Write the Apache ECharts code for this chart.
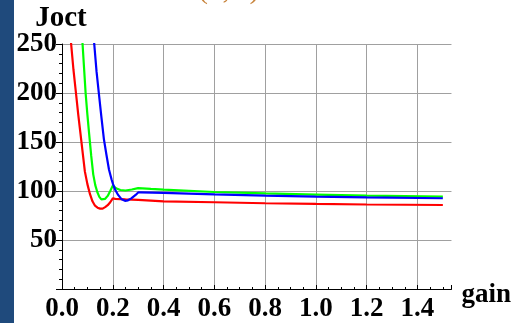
<!DOCTYPE html>
<html>
<head>
<meta charset="utf-8">
<script src="https://cdn.jsdelivr.net/npm/echarts@6/dist/echarts.min.js"></script>
<style>
  html, body { margin: 0; padding: 0; background: #ffffff; }
  #chart { width: 514px; height: 323px; }
</style>
</head>
<body>
<div id="chart"></div>
<script>
// Optimal cost Joct versus controller gain, three parameter settings
const gainRed  = [0.030, 0.036, 0.045, 0.055, 0.064, 0.073, 0.082, 0.090, 0.100, 0.110, 0.120, 0.130, 0.140, 0.150, 0.160, 0.170, 0.180, 0.190, 0.200, 0.210, 0.250, 0.300, 0.400, 0.600, 0.800, 1.000, 1.200, 1.500];
const joctRed  = [266, 250, 224, 200, 178, 158, 138, 120, 107, 97, 89.5, 85, 83, 82, 82, 83.5, 85.5, 88.5, 92.5, 92, 91.5, 91, 89.5, 88.5, 87.5, 86.8, 86.2, 85.7];

const gainGreen = [0.075, 0.081, 0.087, 0.093, 0.100, 0.107, 0.115, 0.123, 0.131, 0.139, 0.147, 0.155, 0.162, 0.170, 0.180, 0.190, 0.200, 0.205, 0.215, 0.230, 0.250, 0.275, 0.300, 0.350, 0.400, 0.600, 0.800, 1.000, 1.200, 1.500];
const joctGreen = [266, 250, 225, 200, 178, 158, 136, 117, 106, 99, 94, 91.5, 90.8, 92, 95, 100, 105.5, 105, 102.5, 101, 100.5, 101.5, 103, 102.2, 101.5, 99, 97.5, 96.3, 95.2, 94.2];

const gainBlue = [0.121, 0.127, 0.136, 0.145, 0.155, 0.165, 0.175, 0.185, 0.195, 0.201, 0.210, 0.221, 0.235, 0.248, 0.260, 0.273, 0.290, 0.300, 0.310, 0.400, 0.600, 0.800, 1.000, 1.200, 1.500];
const joctBlue = [266, 250, 222, 200, 176, 153, 137, 122, 112, 107, 101, 96, 91.5, 90, 90.5, 92.5, 96, 98.5, 98.5, 98, 96.5, 95.3, 94.3, 93.5, 92.6];

const xTicks = [0.0, 0.2, 0.4, 0.6, 0.8, 1.0, 1.2, 1.4];
const yTicks = [50, 100, 150, 200, 250];

const pairs = (xs, ys) => xs.map((x, i) => [x, ys[i]]);

const serifBold = { fontFamily: 'Liberation Serif', fontWeight: 'bold', color: '#000' };

const chart = echarts.init(document.getElementById('chart'), null, { renderer: 'canvas' });

chart.setOption({
  animation: false,
  backgroundColor: '#ffffff',
  graphic: [
    { type: 'rect', left: 0, top: 0, shape: { width: 14, height: 323 }, style: { fill: '#1f4a7c' }, z: 100 },
    { type: 'text', x: 198, y: 5, style: { text: '(λ, τ)', fill: '#c8843c', font: '30px "Liberation Serif"', textVerticalAlign: 'bottom' }, z: 100 },
    // y-axis title above the axis top
    { type: 'text', x: 61, y: 4, style: { text: 'Joct', fill: '#000', font: 'bold 29px "Liberation Serif"', textAlign: 'center', textVerticalAlign: 'top' }, z: 100 }
  ],
  grid: { left: 62, right: 61, top: 44, bottom: 32, containLabel: false },
  xAxis: {
    type: 'value',
    min: 0,
    max: 1.534,
    interval: 0.2,
    name: 'gain',
    nameLocation: 'end',
    nameGap: 10,
    nameTextStyle: Object.assign({ fontSize: 27, verticalAlign: 'top', padding: [-7, 0, 0, 0] }, serifBold),
    axisLine: { show: true, onZero: false, lineStyle: { color: '#000', width: 1 } },
    axisTick: { show: true, inside: true, length: 4, lineStyle: { color: '#000' } },
    minorTick: { show: true, splitNumber: 4, length: 2, lineStyle: { color: '#000' } },
    splitLine: { show: true, showMinLine: false, showMaxLine: false, lineStyle: { color: '#a0a0a0', width: 1 } },
    axisLabel: Object.assign({
      fontSize: 27, margin: 7, showMaxLabel: false,
      formatter: v => xTicks.some(t => Math.abs(t - v) < 1e-6) ? v.toFixed(1) : ''
    }, serifBold)
  },
  yAxis: {
    type: 'value',
    min: 0,
    max: 250,
    interval: 50,
    axisLine: { show: true, onZero: false, lineStyle: { color: '#000', width: 1 } },
    axisTick: { show: true, inside: false, length: 6, lineStyle: { color: '#000' } },
    minorTick: { show: true, splitNumber: 5, length: 3, lineStyle: { color: '#000' } },
    splitLine: { show: true, showMinLine: false, lineStyle: { color: '#a0a0a0', width: 1 } },
    axisLabel: Object.assign({
      fontSize: 27, margin: 5,
      formatter: v => yTicks.indexOf(v) >= 0 ? String(v) : ''
    }, serifBold)
  },
  series: [
    { type: 'line', data: pairs(gainRed, joctRed), showSymbol: false, symbol: 'none', clip: true, lineStyle: { color: '#ff0000', width: 2.2 }, itemStyle: { color: '#ff0000' } },
    { type: 'line', data: pairs(gainGreen, joctGreen), showSymbol: false, symbol: 'none', clip: true, lineStyle: { color: '#00ff00', width: 2.2 }, itemStyle: { color: '#00ff00' } },
    { type: 'line', data: pairs(gainBlue, joctBlue), showSymbol: false, symbol: 'none', clip: true, lineStyle: { color: '#0000ff', width: 2.2 }, itemStyle: { color: '#0000ff' } }
  ]
});
</script>
</body>
</html>
